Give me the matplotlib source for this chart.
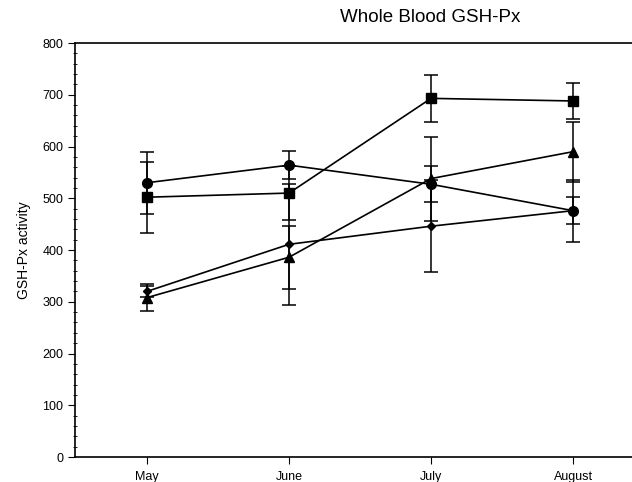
import matplotlib
matplotlib.use("Agg")
import matplotlib.pyplot as plt
from matplotlib.ticker import MultipleLocator

plt.rcParams['font.family'] = ['Liberation Sans', 'DejaVu Sans']

months = ["May", "June", "July", "August"]
square_vals = [502, 510, 693, 688]
square_err = [69, 52, 45, 35]
circle_vals = [530, 564, 527, 476]
circle_err = [60, 27, 35, 26]
triangle_vals = [308, 386, 538, 590]
triangle_err = [26, 61, 81, 58]
diamond_vals = [320, 411, 446, 476]
diamond_err = [10, 117, 89, 60]

fig = plt.figure(figsize=(6.32, 4.82), dpi=100)
ax = fig.add_axes([75/632, 25/482, 1 - 75/632, (457-43)/482])

x = list(range(len(months)))
series = [
    (square_vals, square_err, 's', 7),
    (circle_vals, circle_err, 'o', 7),
    (triangle_vals, triangle_err, '^', 6.5),
    (diamond_vals, diamond_err, 'D', 4.5),
]
for vals, errs, mk, ms in series:
    ax.errorbar(x, vals, yerr=errs, color='black', marker=mk, markersize=ms,
                linewidth=1.2, elinewidth=1.1, capsize=5, capthick=1.1)

ax.set_xlim(-0.507, 3.415)
ax.set_ylim(0, 800)
ax.set_xticks(x)
ax.set_xticklabels(months, fontsize=9)
ax.yaxis.set_major_locator(MultipleLocator(100))
ax.yaxis.set_minor_locator(MultipleLocator(20))
ax.tick_params(axis='y', which='major', direction='out', length=5, labelsize=9, width=0.8)
ax.tick_params(axis='y', which='minor', direction='inout', length=3, width=0.6)
ax.tick_params(axis='x', which='major', direction='out', length=5, labelsize=9, width=0.8, pad=5)
ax.spines['right'].set_visible(False)
for s in ['left', 'bottom', 'top']:
    ax.spines[s].set_linewidth(1.2)

ax.set_ylabel("GSH-Px activity", fontsize=10, labelpad=8)
fig.text(430/632, 1 - 18/482, "Whole Blood GSH-Px", fontsize=13.5, ha='center', va='center')

fig.savefig("out.png", dpi=100)
